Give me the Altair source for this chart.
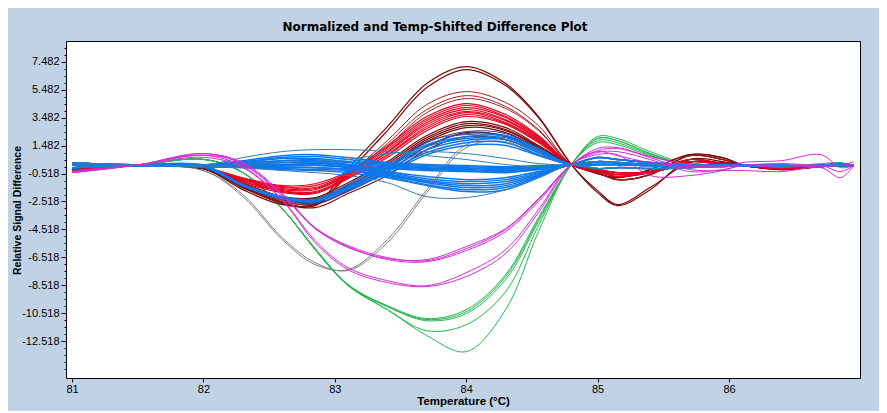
import altair as alt
import pandas as pd

TEMPS = [81.0, 81.5, 82.0, 82.3, 82.6, 82.85, 83.1, 83.4, 83.7, 84.0, 84.3, 84.55,
         84.8, 85.0, 85.15, 85.4, 85.7, 85.95, 86.1, 86.4, 86.7, 86.85, 86.95]

X_TICKS = [81, 82, 83, 84, 85, 86]
Y_MAJOR = [7.482, 5.482, 3.482, 1.482, -0.518, -2.518, -4.518, -6.518, -8.518, -10.518, -12.518]
Y_MINOR = [8.482, 7.982, 6.982, 6.482, 5.982, 4.982, 4.482, 3.982, 2.982, 2.482, 1.982, 0.982, 0.482,
           -0.018, -1.018, -1.518, -2.018, -3.018, -3.518, -4.018, -5.018, -5.518, -6.018, -7.018,
           -7.518, -8.018, -9.018, -9.518, -10.018, -11.018, -11.518, -12.018, -13.018, -13.518, -14.018, -14.518]

# heads: 81 .. 82
H_RED = [-.23, .06, -.09]
H_DARK = [-.34, .06, -.16]
H_NAVY = [-.1, .08, -.12]
H_BLUE1 = [.25, .12, .1]
H_BLUE2 = [.1, .08, .02]
H_BLUE3 = [-.1, .04, -.02]
H_GREEN = [-.1, .1, .5]
H_GRAY = [-.1, .06, -.3]
H_MAG1 = [-.45, .1, .92]
H_MAG2 = [-.38, .1, .8]
H_MAG3 = [-.3, .1, .65]

# tails: 84.8 .. 86.95
T_BIG1 = [.13, -1.88, -2.81, -1.67, .49, .34, .06, -.09, -.02, .06, .06]
T_BIG2 = [.13, -1.74, -2.74, -1.52, .27, .27, .06, -.09, .06, .06, .06]
T_RED1 = [.13, -.23, -.45, -.37, .34, .13, .06, -.09, -.02, .13, .06]
T_RED2 = [.13, -.3, -.59, -.37, .49, .2, .06, -.16, -.02, .06, .06]
T_RED3 = [.13, -.37, -.73, -.45, .13, .06, .06, -.09, -.02, .13, .06]
T_RED4 = [.13, -.45, -.95, -.59, .77, .49, .06, -.16, .06, .06, .06]
T_DARK = [.13, -.52, -.81, -.23, .84, .63, .13, -.23, -.02, .06, .06]
T_BL1 = [.13, .63, .49, .27, .13, .1, .06, .06, .06, .13, .06]
T_BL2 = [.13, .34, .27, .13, .06, .06, .06, .02, .06, .2, .06]
T_BL3 = [.13, .13, .13, .06, -.02, .02, .06, .06, .02, .06, .06]
T_BL4 = [.13, -.16, -.09, -.16, -.09, .02, .06, .02, .06, .1, .06]
T_GR1 = [.13, 2.14, 2.0, 1.06, .13, .06, .06, -.02, .2, .27, .06]
T_GR2 = [.13, 2.0, 1.85, .92, .06, .06, .06, -.02, .13, .2, .06]
T_GR3 = [.13, 1.85, 1.7, .84, .06, .06, .06, -.02, .06, .13, .06]
T_GR4 = [.13, 1.7, 1.56, .77, .06, .06, .06, -.02, .06, .06, .06]
T_MG1 = [.13, 1.28, 1.35, .7, .13, -.09, .27, .41, .84, -.09, .06]
T_MG2 = [.13, 1.13, 1.28, .63, -.23, -.3, -.3, -.37, -.09, -.81, .06]
T_MG3 = [.13, .99, 1.06, .49, -.37, -.23, .06, .2, .06, .06, .34]
T_MG4 = [.13, .84, .84, -.66, -.66, -.3, .06, -.09, .06, -.37, .06]
T_MG5 = [.13, 1.06, .77, .27, -.02, -.02, .06, .06, -.02, .06, .13]

CURVES_GRAY = [
    (H_GRAY, [-2.17, -5.25, -7.04, -7.4, -5.25, -1.67, 1.56, 1.92, .84], T_BL3),
    (H_GRAY, [-2.02, -5.11, -6.9, -7.47, -5.47, -1.88, 1.35, 1.78, .77], T_BL3),
]
CURVES_GREEN = [
    (H_GREEN, [-.45, -3.03, -5.9, -8.48, -10.05, -10.98, -10.41, -7.9, -3.82], T_GR1),
    (H_GREEN, [-.45, -3.03, -5.9, -8.48, -10.05, -11.06, -10.55, -8.12, -3.96], T_GR2),
    (H_GREEN, [-.45, -3.03, -5.97, -8.55, -10.27, -11.78, -11.35, -8.98, -4.25], T_GR3),
    (H_GREEN, [-.45, -3.03, -5.97, -8.55, -10.27, -12.13, -13.28, -10.27, -4.68], T_GR4),
    (H_GREEN, [-.45, -3.03, -5.9, -8.48, -9.98, -10.91, -10.27, -7.76, -3.67], T_GR2),
]
CURVES_DARK = [
    (H_DARK, [-1.67, -2.74, -2.67, -.16, 2.85, 5.94, 7.15, 5.94, 3.57], T_BIG1),
    (H_DARK, [-1.52, -2.6, -2.81, -.45, 2.56, 5.65, 6.94, 5.79, 3.5], T_BIG2),
    (H_DARK, [-1.24, -2.17, -2.24, -1.17, .34, 2.21, 3.21, 2.78, 1.49], T_DARK),
    (H_DARK, [-1.31, -2.24, -2.31, -1.31, .2, 2.06, 3.07, 2.64, 1.42], T_DARK),
    (H_DARK, [-1.31, -2.31, -2.45, -1.38, .06, 1.92, 2.92, 2.56, 1.35], T_RED4),
    (H_DARK, [-1.38, -2.38, -2.52, -1.52, -.09, 1.78, 2.78, 2.42, 1.28], T_RED4),
    (H_DARK, [-1.45, -2.52, -2.74, -1.74, -.37, 1.42, 2.42, 2.14, 1.13], T_RED2),
    (H_DARK, [-1.52, -2.67, -2.96, -1.95, -.66, 1.2, 2.13, 1.92, .99], T_RED1),
]
CURVES_BRICK = [
    (H_RED, [-1.38, -2.45, -2.67, -.66, 1.85, 4.43, 5.36, 4.57, 2.92], T_RED4),
    (H_RED, [-1.24, -2.31, -2.6, -.73, 1.63, 4.07, 5.07, 4.29, 2.64], T_RED3),
    (H_RED, [-1.17, -2.17, -2.45, -.73, 1.42, 3.85, 4.86, 4.15, 2.56], T_RED2),
]
CURVES_RED = [
    (H_RED, [-.81, -1.38, -1.24, -.37, 1.49, 3.57, 4.5, 3.71, 2.21], T_RED1),
    (H_RED, [-.88, -1.45, -1.38, -.45, 1.35, 3.42, 4.36, 3.57, 2.14], T_RED2),
    (H_RED, [-.95, -1.52, -1.52, -.52, 1.2, 3.28, 4.21, 3.5, 2.06], T_RED3),
    (H_RED, [-.95, -1.59, -1.59, -.59, 1.06, 3.14, 4.07, 3.35, 1.99], T_RED1),
    (H_RED, [-1.02, -1.67, -1.67, -.66, .99, 3.0, 3.93, 3.28, 1.92], T_RED2),
    (H_RED, [-1.09, -1.74, -1.81, -.73, .84, 2.85, 3.85, 3.14, 1.85], T_RED3),
    (H_RED, [-1.09, -1.81, -1.88, -.81, .77, 2.71, 3.71, 3.07, 1.78], T_RED1),
    (H_RED, [-1.17, -1.88, -1.95, -.88, .63, 2.56, 3.57, 3.0, 1.7], T_RED3),
]
CURVES_NAVY = [
    (H_NAVY, [-1.38, -2.31, -2.6, -1.74, -.23, 1.7, 2.49, 2.35, 1.2], T_BL3),
    (H_NAVY, [-1.45, -2.38, -2.67, -1.81, -.37, 1.49, 2.35, 2.21, 1.13], T_BL4),
    (H_NAVY, [-1.31, -2.31, -2.52, -1.59, -.09, 1.78, 2.28, 2.14, .99], T_BL3),
]
CURVES_BLUE = [
    (H_BLUE1, [-1.31, -2.17, -2.38, -1.31, .06, 1.56, 2.13, 2.21, 1.28], T_BL3),
    (H_BLUE2, [-1.31, -2.24, -2.45, -1.45, -.09, 1.42, 1.99, 2.06, 1.13], T_BL2),
    (H_BLUE2, [-1.38, -2.24, -2.45, -1.52, -.23, 1.2, 1.85, 1.92, .99], T_BL3),
    (H_BLUE3, [-1.38, -2.31, -2.52, -1.59, -.37, .99, 1.7, 1.7, .84], T_BL2),
    (H_BLUE3, [-1.38, -2.31, -2.52, -1.66, -.52, .84, 1.49, 1.49, .77], T_BL4),
    (H_BLUE1, [.41, .77, .84, .63, .27, .13, .06, -.02, .06], T_BL1),
    (H_BLUE1, [.34, .63, .7, .49, .2, .06, -.02, -.09, -.02], T_BL1),
    (H_BLUE1, [.27, .56, .56, .34, .13, -.02, -.09, -.16, -.09], T_BL2),
    (H_BLUE2, [.2, .41, .41, .27, .06, -.09, -.16, -.23, -.16], T_BL2),
    (H_BLUE2, [.13, .27, .27, .13, -.02, -.16, -.23, -.3, -.16], T_BL3),
    (H_BLUE3, [.06, .13, .13, -.02, -.09, -.23, -.3, -.37, -.23], T_BL3),
    (H_BLUE3, [-.02, -.02, -.09, -.16, -.16, -.3, -.37, -.45, -.23], T_BL4),
    (H_BLUE1, [.2, .41, .49, .13, -.37, -.73, -.95, -.81, -.37], T_BL1),
    (H_BLUE1, [.13, .27, .34, .06, -.45, -.88, -1.09, -.95, -.45], T_BL2),
    (H_BLUE2, [.06, .13, .2, -.02, -.52, -1.02, -1.24, -1.09, -.52], T_BL1),
    (H_BLUE2, [.06, .06, .06, -.09, -.59, -1.09, -1.38, -1.24, -.59], T_BL2),
    (H_BLUE2, [-.02, -.09, -.09, -.23, -.66, -1.17, -1.52, -1.38, -.66], T_BL3),
    (H_BLUE3, [-.02, -.16, -.23, -.3, -.73, -1.31, -1.67, -1.52, -.73], T_BL3),
    (H_BLUE3, [-.09, -.23, -.3, -.45, -.81, -1.38, -1.81, -1.67, -.81], T_BL4),
]
CURVES_TEAL = [
    (H_BLUE1, [.63, 1.06, 1.2, 1.2, 1.06, .77, .49, .13, -.02], T_BL2),
    (H_BLUE2, [.13, .27, .34, .49, .92, 1.06, .92, .56, .2], T_BL2),
    (H_BLUE3, [-.09, -.3, -.45, -.66, -1.17, -2.17, -2.24, -1.67, -.81], T_BL4),
]
CURVES_MAGENTA = [
    (H_MAG1, [.27, -1.95, -4.39, -5.68, -6.54, -6.76, -5.9, -4.53, -2.38], T_MG1),
    (H_MAG2, [.2, -2.02, -4.46, -5.75, -6.68, -6.83, -6.04, -4.68, -2.52], T_MG2),
    (H_MAG1, [.13, -2.1, -4.46, -5.82, -6.61, -6.68, -5.75, -4.46, -2.31], T_MG3),
    (H_MAG2, [-.02, -2.38, -5.32, -7.26, -8.19, -8.55, -7.62, -5.97, -3.1], T_MG4),
    (H_MAG3, [-.09, -2.45, -5.47, -7.4, -8.33, -8.62, -7.9, -6.25, -3.31], T_MG5),
]

GROUPS = [
    ("gray", CURVES_GRAY, "#808080", 1), ("green", CURVES_GREEN, "#22b84c", 1),
    ("dark", CURVES_DARK, "#7d0a0a", 1.2), ("brick", CURVES_BRICK, "#a81c1c", 1),
    ("red", CURVES_RED, "#e4001c", 1.1), ("navy", CURVES_NAVY, "#34408c", 1),
    ("blue", CURVES_BLUE, "#0f78e8", 1.5), ("teal", CURVES_TEAL, "#2f80b4", 1),
    ("magenta", CURVES_MAGENTA, "#d22cd2", 1),
]

major_js = "[" + ",".join(str(v) for v in Y_MAJOR) + "]"
is_major = f"indexof({major_js}, datum.value) >= 0"

x_enc = alt.X(
    "t:Q",
    scale=alt.Scale(domain=[80.954, 86.997], nice=False, zero=False),
    axis=alt.Axis(
        values=X_TICKS, format="d", title="Temperature (°C)", grid=False, domain=False,
        tickColor="#000", tickSize=4, labelFont="Liberation Sans", labelFontSize=11,
        labelColor="#000", labelPadding=1, titleFont="Liberation Sans", titleFontSize=11.5,
        titleFontWeight="bold", titleColor="#000", titleX=397, titleY=17, titleBaseline="top",
    ),
)
y_enc = alt.Y(
    "v:Q",
    scale=alt.Scale(domain=[-15.17, 8.987], nice=False, zero=False),
    axis=alt.Axis(
        values=Y_MAJOR + Y_MINOR,
        labelExpr=f"{is_major} ? (datum.value < 0 ? '-' : '') + format(abs(datum.value), '.3f') : ''",
        title="Relative Signal Difference", grid=False, domain=False, tickColor="#000",
        tickSize={"condition": {"test": is_major, "value": 5}, "value": 2},
        labelFont="Liberation Sans", labelFontSize=11, labelColor="#000", labelPadding=2,
        labelOverlap=False, titleFont="Liberation Sans", titleFontSize=10.5,
        titleFontWeight="bold", titleColor="#000", titleX=-44, titleY=169,
    ),
)

layers = []
for name, curves, color, width in GROUPS:
    rows = []
    for i, (head, mid, tail) in enumerate(curves):
        for t, v in zip(TEMPS, head + mid + tail):
            rows.append({"curve": f"{name}{i}", "t": t, "v": v})
    layers.append(
        alt.Chart(pd.DataFrame(rows))
        .mark_line(interpolate="catmull-rom", clip=True, color=color, strokeWidth=width)
        .encode(x=x_enc, y=y_enc, detail="curve:N", order="t:Q")
    )

chart = (
    alt.layer(*layers)
    .properties(
        width=794,
        height=337,
        background="#c0d2e4",
        padding={"left": 58, "top": 33, "right": 19, "bottom": 33},
        autosize=alt.AutoSizeParams(type="none"),
        title=alt.TitleParams(
            "Normalized and Temp-Shifted Difference Plot", font="DejaVu Sans", fontSize=12,
            fontWeight="bold", color="#000", anchor="middle", offset=7, dx=-28,
        ),
    )
    .configure_view(stroke="#000", strokeWidth=1, fill="#fff")
)

chart.save("out.html", embed_options={"renderer": "svg", "actions": False})
